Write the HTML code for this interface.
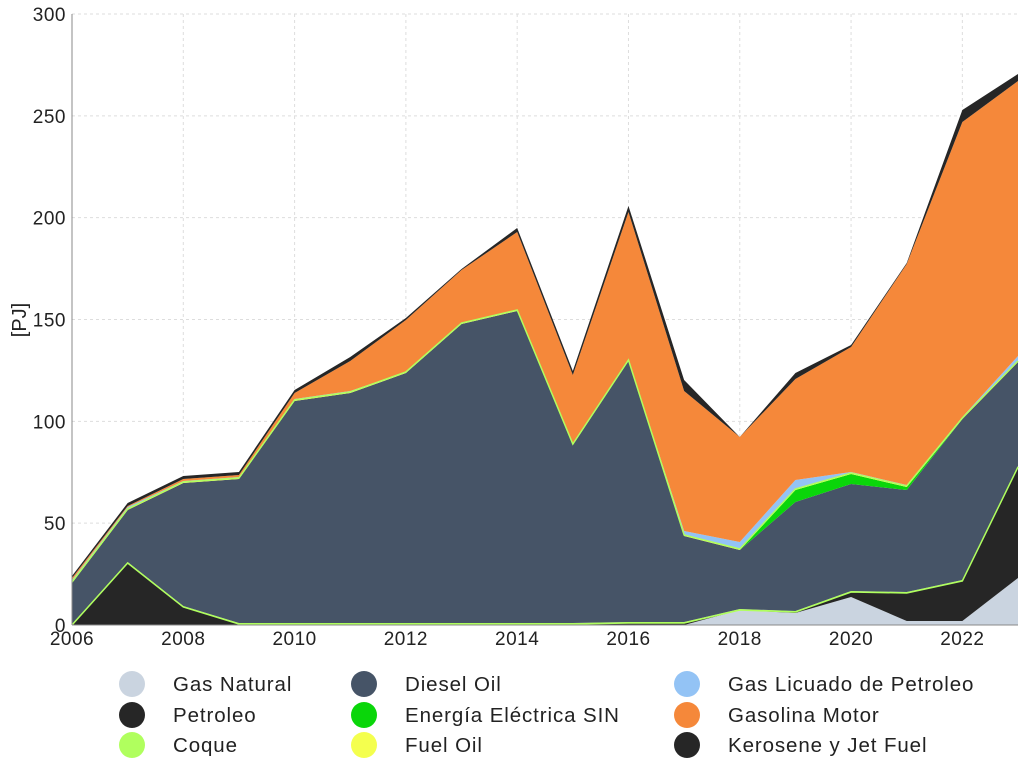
<!DOCTYPE html>
<html><head><meta charset="utf-8"><style>
body{margin:0;background:#fff;font-family:"Liberation Sans",sans-serif}
</style></head><body>
<svg id="s" width="1024" height="772" xmlns="http://www.w3.org/2000/svg" font-family="Liberation Sans, sans-serif">
</svg>
<script>
const s=document.getElementById('s');
const X=[];for(let i=0;i<18;i++)X.push(72+i*(946/17));
const base=Array(18).fill(625);
const gas=[625,625,625,625,625,625,625,625,625,625,625,625,610,613,597,621,621,578];
const pet=[625,563,607,624,624,624,624,624,624,624,623,623,610,612,592,593,581,467];
const coq=pet.map(v=>v-1);
const die=[583,510,483,479,401,393,373,324,311,445,361,536,550,502,484,490,419,362];
const sin=[583,510,483,479,401,393,373,324,311,445,361,536,550,490,474,487,419,362];
const fo=sin.map(v=>v-1);
const glp=[580,507,481,477,399,391,372,323,310,444,360,531,542,480,472,485,417,356];
const gaso=[578,506,479,475,393,361,320,270,232,375,212,391,437,379,347,264,122,81];
const ker=[576,503,476,472,390,357,318,269,228,371,206,380,437,373,345,263,110,74];
let h='';
for(let k=0;k<=6;k++){const y=625-k*101.83;h+=`<line x1="72" x2="1018" y1="${y}" y2="${y}" stroke="#ddd" stroke-dasharray="3,3"/>`;h+=`<text x="66" y="${y+7}" font-size="19" text-anchor="end" fill="#222" letter-spacing="0.5">${k*50}</text>`;}
for(let i=0;i<18;i+=2){h+=`<line x1="${X[i]}" x2="${X[i]}" y1="14" y2="625" stroke="#ddd" stroke-dasharray="3,3"/>`;h+=`<text x="${X[i]}" y="645" font-size="19" text-anchor="middle" fill="#222" letter-spacing="0.5">${2006+i}</text>`;}
function band(lo,hi,c){let p=X.map((x,i)=>x+','+hi[i]).join(' ')+' '+X.map((x,i)=>x+','+lo[i]).reverse().join(' ');return `<polygon points="${p}" fill="${c}"/>`;}
h+=band(base,gas,'#cad4e0');
h+=band(gas,pet,'#262626');
h+=band(pet,coq,'#b0ff5e');
h+=band(coq,die,'#465467');
h+=band(die,sin,'#0ad60a');
h+=band(sin,fo,'#f4ff4e');
h+=band(fo,glp,'#93c3f5');
h+=band(glp,gaso,'#f5883a');
h+=band(gaso,ker,'#262626');
const ln=a=>`<polyline points="${X.map((x,i)=>x+','+a[i]).join(' ')}" fill="none" stroke="#b0ff5e" stroke-width="1.5"/>`;
h+=ln(pet);h+=ln(fo);
h+=`<line x1="72" x2="72" y1="14" y2="625" stroke="#888"/><line x1="72" x2="1018" y1="625" y2="625" stroke="#888"/>`;
h+=`<text transform="translate(26,320) rotate(-90)" font-size="20" text-anchor="middle" fill="#222">[PJ]</text>`;
const L=[[132,684,'#cad4e0','Gas Natural'],[132,715,'#262626','Petroleo'],[132,745,'#b0ff5e','Coque'],
[364,684,'#465467','Diesel Oil'],[364,715,'#0ad60a','Energía Eléctrica SIN'],[364,745,'#f4ff4e','Fuel Oil'],
[687,684,'#93c3f5','Gas Licuado de Petroleo'],[687,715,'#f5883a','Gasolina Motor'],[687,745,'#262626','Kerosene y Jet Fuel']];
for(const [x,y,c,t] of L){h+=`<circle cx="${x}" cy="${y}" r="13" fill="${c}"/><text x="${x+41}" y="${y+7}" font-size="20.5" letter-spacing="0.9" fill="#222">${t}</text>`;}
s.innerHTML=h;
</script>
</body></html>
